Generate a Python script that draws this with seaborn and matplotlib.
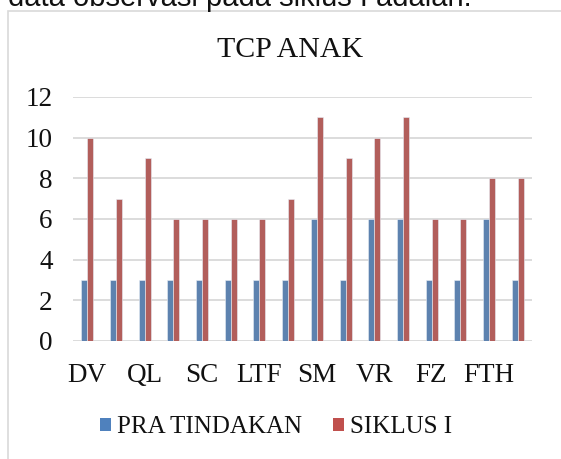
import matplotlib
matplotlib.use("Agg")
import matplotlib.pyplot as plt
import seaborn as sns
import pandas as pd
from matplotlib.patches import Rectangle, Patch

categories = ["DV", "S2", "QL", "S4", "SC", "S6", "LTF", "S8",
              "SM", "S10", "VR", "S12", "FZ", "S14", "FTH", "S16"]
tick_labels = ["DV", "", "QL", "", "SC", "", "LTF", "",
               "SM", "", "VR", "", "FZ", "", "FTH", ""]
pra = [3, 3, 3, 3, 3, 3, 3, 3, 6, 3, 6, 6, 3, 3, 6, 3]
siklus = [10, 7, 9, 6, 6, 6, 6, 7, 11, 9, 10, 11, 6, 6, 8, 8]
series = ["PRA TINDAKAN", "SIKLUS I"]
colors = ["#4F81BD", "#C0504D"]
yticks = [0, 2, 4, 6, 8, 10, 12]

df = pd.DataFrame({
    "cat": categories * 2,
    "val": pra + siklus,
    "series": [series[0]] * len(categories) + [series[1]] * len(categories),
})

sns.set_theme(style="white")
W, H = 561, 459
fig = plt.figure(figsize=(W / 100, H / 100), dpi=100)
fig.patch.set_facecolor("white")

# outer chart border
fig.patches.append(Rectangle((8 / W, -0.1), 1.2, (H - 11) / H + 0.1,
                             transform=fig.transFigure, fill=False,
                             edgecolor="#D9D9D9", lw=1.2, zorder=0))

ax = fig.add_axes([73 / W, (H - 341) / H, (532 - 73) / W, (341 - 97) / H])
sns.barplot(data=df, x="cat", y="val", hue="series", palette=colors,
            width=0.42, gap=0, ax=ax, edgecolor="#E8EEF6", linewidth=0.4,
            legend=False, order=categories, hue_order=series)
ax.set_ylim(0, 12)
ax.set_xlim(-0.5, len(categories) - 0.5)
ax.set_yticks(yticks)
ax.set_yticklabels([str(t) for t in yticks], fontfamily="Liberation Serif",
                   fontsize=19.5, color="#111111")
ax.set_xticks(range(len(categories)))
ax.set_xticklabels(tick_labels, fontfamily="Liberation Serif", fontsize=19.5,
                   color="#111111")
ax.tick_params(axis="both", length=0)
ax.tick_params(axis="y", pad=14.5)
ax.tick_params(axis="x", pad=16)
for s in ax.spines.values():
    s.set_visible(False)
ax.yaxis.grid(True, color="#D9D9D9", lw=1.3)
ax.set_axisbelow(True)
ax.set_xlabel("")
ax.set_ylabel("")
ax.set_facecolor("none")

fig.text(290 / W, (H - 50) / H, "TCP ANAK", ha="center", va="center",
         fontfamily="Liberation Serif", fontsize=21.5, color="#111111")

handles = [Patch(facecolor=c, edgecolor="none") for c in colors]
leg = fig.legend(handles, series, loc="center", bbox_to_anchor=(276 / W, (H - 427) / H),
                 ncol=2, frameon=False, prop={"family": "Liberation Serif", "size": 18},
                 handlelength=0.42, handleheight=0.42, handletextpad=0.25,
                 columnspacing=1.25)
for t in leg.get_texts():
    t.set_color("#111111")

fig.text(8 / W, (H - 6) / H, "data observasi pada siklus I adalah:", ha="left",
         va="baseline", fontfamily="Liberation Sans", fontsize=21, color="#111111")

fig.savefig("out.png", dpi=100)
